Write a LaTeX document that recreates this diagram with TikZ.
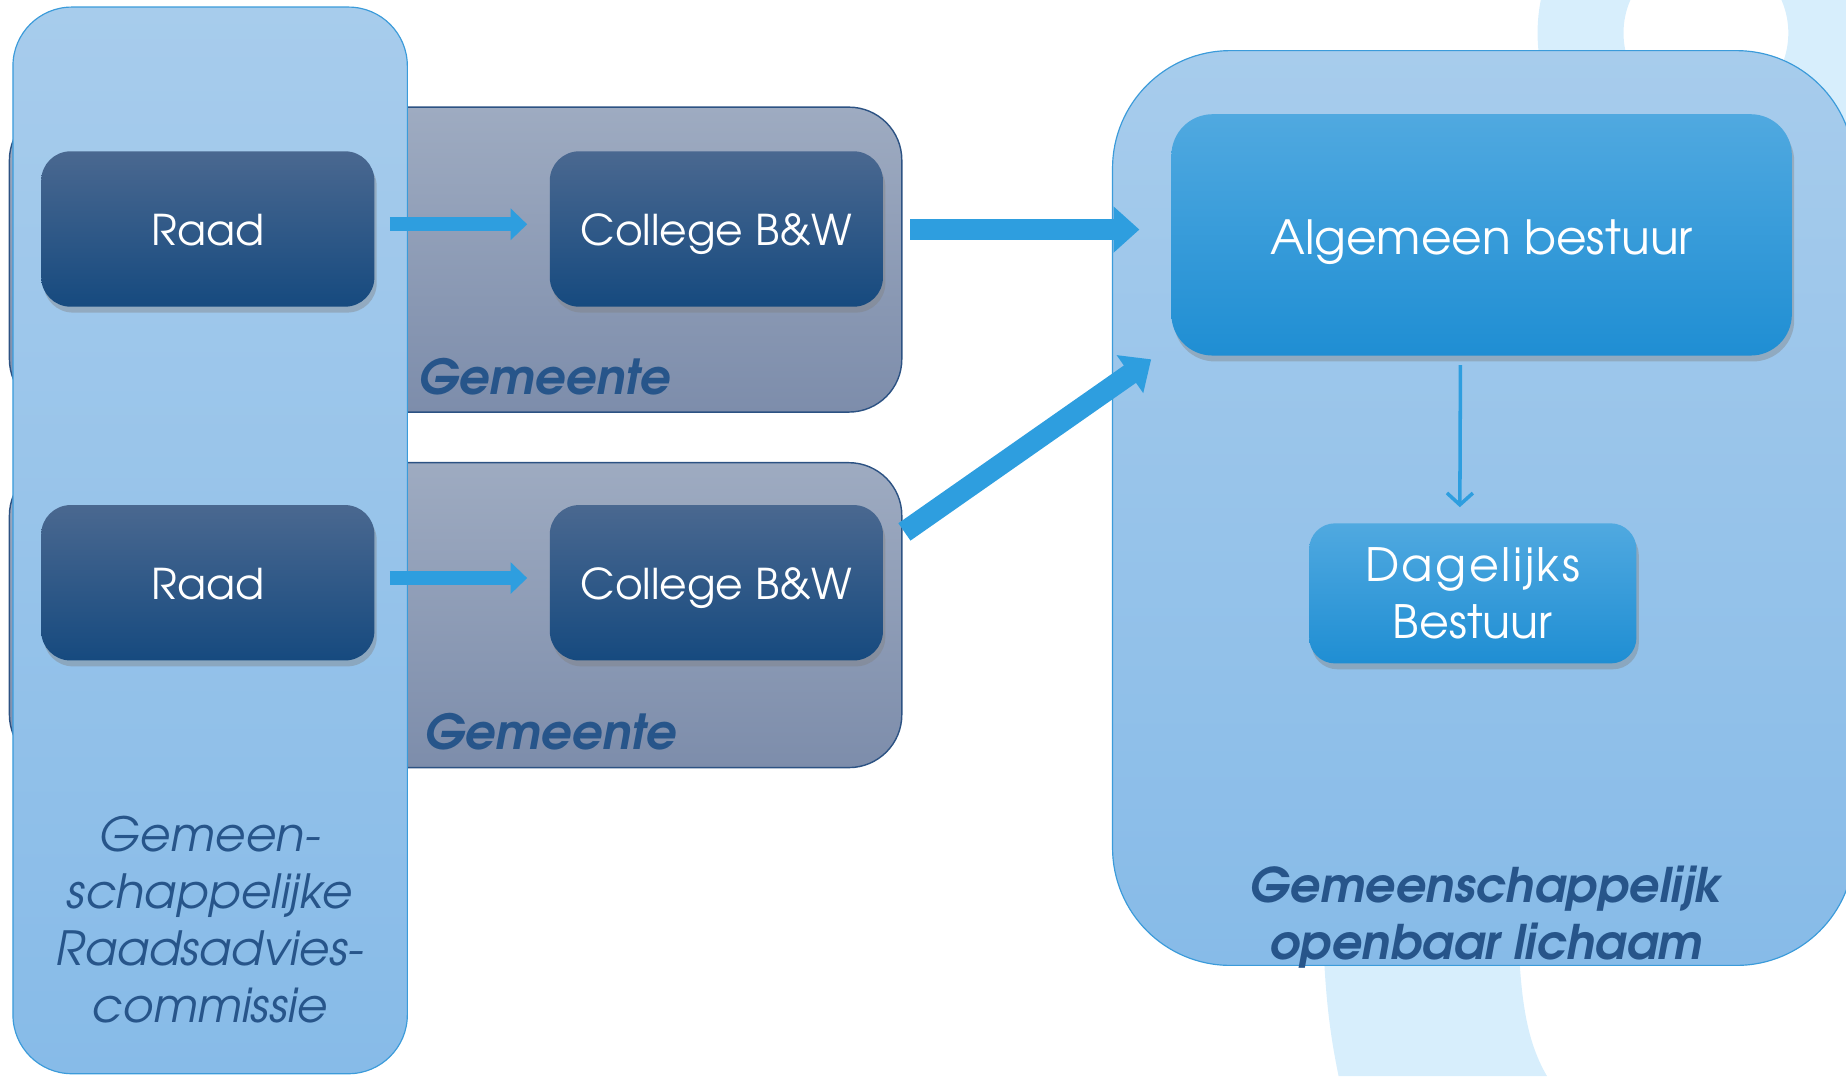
\documentclass[tikz,border=0pt]{standalone}
\usepackage{fontspec}
\setmainfont{TeX Gyre Adventor}
\usetikzlibrary{arrows.meta,shadows}

\definecolor{decoblue}{HTML}{D7EEFC}
\definecolor{paneltop}{HTML}{A7CCEC}
\definecolor{panelbot}{HTML}{87BBE8}
\definecolor{panelline}{HTML}{3B9BDA}
\definecolor{gemtop}{HTML}{9EABC1}
\definecolor{gembot}{HTML}{7D8DAB}
\definecolor{gemline}{HTML}{2C5283}
\definecolor{darktop}{HTML}{4A6890}
\definecolor{darkbot}{HTML}{164A7F}
\definecolor{bluetop}{HTML}{50A9E0}
\definecolor{bluebot}{HTML}{1F8ED3}
\definecolor{arrowblue}{HTML}{2E9EDF}
\definecolor{labelblue}{HTML}{27558A}

\begin{document}
\begin{tikzpicture}[x=1pt,y=-1pt,
  panel/.style={draw=panelline,line width=1pt,top color=paneltop,bottom color=panelbot,inner sep=0pt},
  gembox/.style={draw=gemline,line width=1.2pt,top color=gemtop,bottom color=gembot,
    rounded corners=45pt,minimum width=758pt,minimum height=259pt,inner sep=0pt},
  darkbox/.style={top color=darktop,bottom color=darkbot,rounded corners=25pt,
    minimum width=283pt,minimum height=132pt,inner sep=0pt,text=white,
    font=\fontsize{36}{43}\selectfont,text height=28pt,text depth=0pt,
    drop shadow={shadow xshift=2pt,shadow yshift=-5pt,opacity=0.4}},
  bluebox/.style={top color=bluetop,bottom color=bluebot,inner sep=0pt,text=white,align=center,
    drop shadow={shadow xshift=2pt,shadow yshift=-5pt,opacity=0.4}},
  gemlabel/.style={text=labelblue,font=\fontsize{41}{48}\selectfont\bfseries\itshape,
    anchor=base west,inner sep=0pt},
  thickflow/.style={arrowblue,line width=12pt,-{Triangle[length=14pt,width=26pt]}},
  bigflow/.style={arrowblue,line width=18pt,-{Triangle[length=22pt,width=38pt]}}]
\useasboundingbox (0,0) rectangle (1568,914);
\clip (0,0) rectangle (1568,914);

% background decoration
\fill[decoblue,even odd rule] (1449,28) circle (143) (1449,28) circle (70);
\fill[decoblue] (1124,800) -- (1290,800) .. controls (1292,860) and (1300,890) .. (1314,914)
  -- (1137,914) .. controls (1130,880) and (1126,850) .. (1124,800) -- cycle;

% Gemeenschappelijk openbaar lichaam
\node[panel,rounded corners=100pt,minimum width=630pt,minimum height=777pt] (gol) at (1260,431.5) {};
\node[bluebox,rounded corners=35pt,minimum width=527pt,minimum height=205pt,
  font=\fontsize{40}{48}\selectfont,text height=33pt,text depth=0pt] (algemeen) at (1258.5,199.5) {Algemeen bestuur};
\node[bluebox,rounded corners=22pt,minimum width=278pt,minimum height=119pt,
  font=\fontsize{39}{48}\selectfont] (dagelijks) at (1251,504)
  {{\addfontfeature{LetterSpace=5.5}Dagelijks}\\[1pt]Bestuur};
\node[text=labelblue,font=\fontsize{40.5}{48}\selectfont\bfseries\itshape,align=center,inner sep=0pt]
  (gollabel) at (1262,779) {Gemeenschappelijk\\openbaar lichaam};

% gemeenten
\node[gembox] (gemA) at (387,220.5) {};
\node[gembox] (gemB) at (387,522.5) {};
\node[gemlabel] (gemlabelA) at (355,335) {Gemeente};
\node[gemlabel] (gemlabelB) at (360,637) {Gemeente};

% raadsadviescommissie
\node[panel,rounded corners=50pt,minimum width=335pt,minimum height=906pt] (gra) at (178.5,459) {};
\node[text=labelblue,font=\fontsize{40}{48.5}\selectfont\itshape,align=center,inner sep=0pt]
  (gralabel) at (178,781) {Gemeen-\\schappelijke\\Raadsadvies-\\commissie};

\node[darkbox] (raadA) at (176.5,194.5) {Raad};
\node[darkbox] (collegeA) at (608.5,194.5) {College B\&W};
\node[darkbox] (raadB) at (176.5,495) {Raad};
\node[darkbox] (collegeB) at (608.5,495) {College B\&W};

% connectors
\draw[thickflow,shorten <=13pt,shorten >=19pt] ([yshift=4pt]raadA.east) -- ([yshift=4pt]collegeA.west);
\draw[thickflow,shorten <=13pt,shorten >=19pt] ([yshift=4pt]raadB.east) -- ([yshift=4pt]collegeB.west);
\draw[bigflow] ([xshift=23pt,yshift=-0.5pt]collegeA.east) -- ([xshift=-27pt,yshift=-0.5pt]collegeA.east -| algemeen.west);
\draw[bigflow] ([xshift=18pt,yshift=-23pt]collegeB.north east) -- ([xshift=-17pt,yshift=-3pt]algemeen.south west);
\draw[arrowblue,line width=3pt,-{Straight Barb[length=10pt,width=22pt]}]
  ([xshift=-18pt,yshift=-8pt]algemeen.south) -- ([xshift=-11pt,yshift=13.5pt]dagelijks.north);
\end{tikzpicture}
\end{document}
